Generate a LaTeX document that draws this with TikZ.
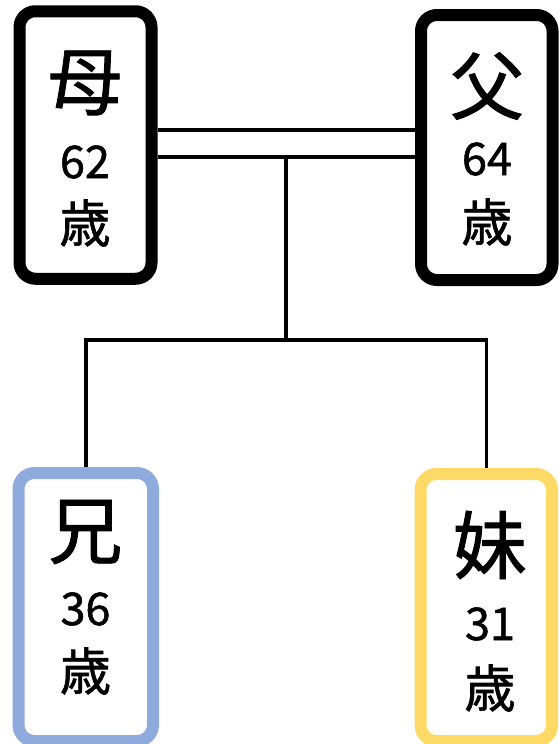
\documentclass[tikz,border=0pt]{standalone}
\usepackage{fontspec}
\setmainfont{Noto Sans CJK JP}[FakeBold=1.2]
\definecolor{bluebox}{HTML}{8FAADC}
\definecolor{yellowbox}{HTML}{FFD966}
\begin{document}
\begin{tikzpicture}[x=1pt,y=-1pt,
  personbox/.style={draw, rounded corners=16pt, line width=12pt, fill=white, inner sep=0pt},
  conn/.style={line width=3.5pt, black},
  bigch/.style={font=\fontsize{74}{74}\selectfont, inner sep=0pt},
  agenum/.style={font=\fontsize{45}{45}\selectfont, inner sep=0pt},
  agech/.style={font=\fontsize{51}{51}\selectfont, inner sep=0pt}]
\useasboundingbox (0,0) rectangle (559,744);
% boxes
\node[personbox, minimum width=132pt, minimum height=267.5pt] (mom) at (85.5,145) {};
\node[personbox, minimum width=131.5pt, minimum height=265pt] (dad) at (486.75,147.5) {};
\node[personbox, draw=bluebox, minimum width=134.5pt, minimum height=268pt] (bro) at (85.75,607) {};
\node[personbox, draw=yellowbox, minimum width=131.5pt, minimum height=267pt] (sis) at (486.25,607.5) {};
% texts
\node[bigch] (momc) at (85,83) {母};
\node[agenum] (momn) at (85,162) {62};
\node[agech] (momy) at (85,223) {歳};
\node[bigch] (dadc) at (487,86) {父};
\node[agenum] (dadn) at (487,159) {64};
\node[agech] (dady) at (487,222) {歳};
\node[bigch] (broc) at (85.5,532) {兄};
\node[agenum] (bron) at (85.5,609) {36};
\node[agech] (broy) at (85.5,671) {歳};
\node[bigch] (sisc) at (490,545) {妹};
\node[agenum] (sisn) at (490,624) {31};
\node[agech] (sisy) at (490,688) {歳};
% connectors
\coordinate (j) at (286,157);
\coordinate (k) at (286,340);
\draw[conn] (mom.east |- 0,130) -- (dad.west |- 0,130);
\draw[conn] (mom.east |- 0,157) -- (dad.west |- 0,157);
\draw[conn] (j) -- (k);
\draw[conn] (bro.north) -- (bro.north |- k) -- (sis.north |- k) -- (sis.north);
\end{tikzpicture}
\end{document}
